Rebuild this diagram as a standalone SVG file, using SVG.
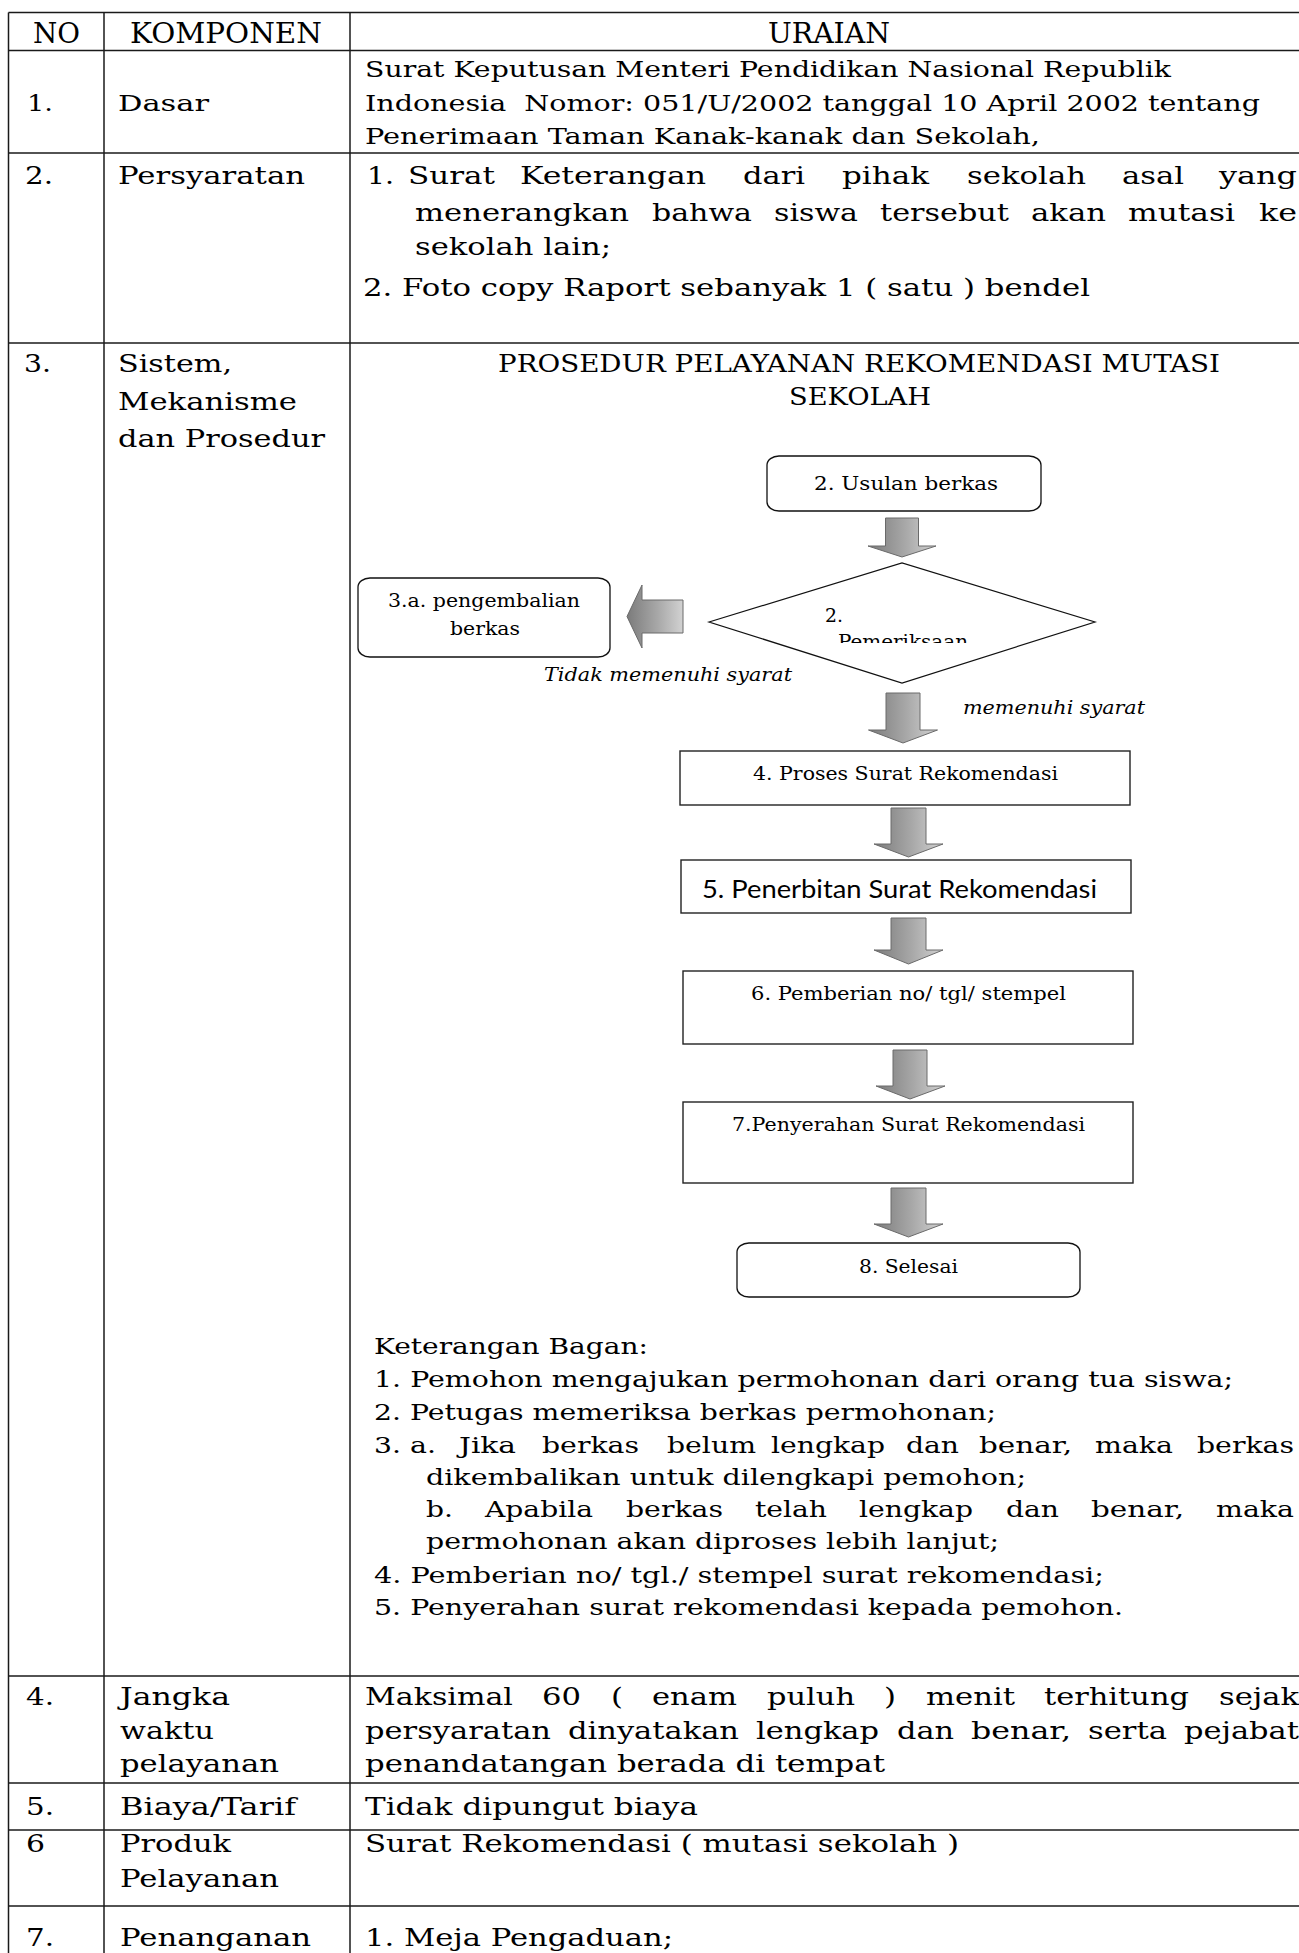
<svg xmlns="http://www.w3.org/2000/svg" width="1299" height="1953" viewBox="0 0 1299 1953">
<defs>
  <style>
    text { font-family: 'DejaVu Serif', 'Liberation Serif', serif; fill: #000; }
    .h { font-size: 27px; }
    .s23 { font-size: 23px; }
    .s24 { font-size: 24px; }
    .s25 { font-size: 25px; }
    .ttl { font-size: 25px; }
    .fl { font-size: 18px; }
    .it { font-size: 19px; font-style: italic; }
    .sans { font-family: Lato, 'Open Sans', 'Liberation Sans', sans-serif; font-size: 25px; }
    .grid line { stroke: #1a1a1a; stroke-width: 1.5; }
    .rbox { fill: #fff; stroke: #111; stroke-width: 1.3; }
    .box { fill: #fff; stroke: #222; stroke-width: 1.4; }
    .arrow { fill: url(#gArrow); stroke: #6a6a6a; stroke-width: 1; }
    .dia { fill: #fff; stroke: #111; stroke-width: 1.2; }
  </style>
  <linearGradient id="gArrow" x1="0" y1="0" x2="1" y2="0">
    <stop offset="0" stop-color="#7b7b7b"/>
    <stop offset="0.55" stop-color="#a8a8a8"/>
    <stop offset="1" stop-color="#d2d2d2"/>
  </linearGradient>
  <clipPath id="clipDiamondText"><rect x="700" y="590" width="400" height="53"/></clipPath>
</defs>

<rect x="0" y="0" width="1299" height="1953" fill="#fff"/>

<!-- table rules -->
<g id="table-grid" class="grid">
  <line x1="8.5" y1="12.5" x2="1299" y2="12.5"/>
  <line x1="8.5" y1="50.5" x2="1299" y2="50.5"/>
  <line x1="8.5" y1="153" x2="1299" y2="153"/>
  <line x1="8.5" y1="343" x2="1299" y2="343"/>
  <line x1="8.5" y1="1676" x2="1299" y2="1676"/>
  <line x1="8.5" y1="1783" x2="1299" y2="1783"/>
  <line x1="8.5" y1="1830" x2="1299" y2="1830"/>
  <line x1="8.5" y1="1906" x2="1299" y2="1906"/>
  <line x1="8.5" y1="12.5" x2="8.5" y2="1953"/>
  <line x1="104" y1="12.5" x2="104" y2="1953"/>
  <line x1="350" y1="12.5" x2="350" y2="1953"/>
</g>

<!-- header row -->
<g id="row-header">
  <text class="h" x="33" y="43" textLength="47" lengthAdjust="spacingAndGlyphs">NO</text>
  <text class="h" x="130" y="43" textLength="192" lengthAdjust="spacingAndGlyphs">KOMPONEN</text>
  <text class="h" x="768" y="43" textLength="122" lengthAdjust="spacingAndGlyphs">URAIAN</text>
</g>

<!-- 1. Dasar -->
<g id="row-1">
  <text class="s23" x="27" y="111" textLength="26" lengthAdjust="spacingAndGlyphs">1.</text>
  <text class="s23" x="118" y="111" textLength="91" lengthAdjust="spacingAndGlyphs">Dasar</text>
  <text class="s23" x="365" y="77" textLength="806" lengthAdjust="spacingAndGlyphs">Surat Keputusan Menteri Pendidikan Nasional Republik</text>
  <text class="s23" x="365" y="111" textLength="895" lengthAdjust="spacingAndGlyphs" xml:space="preserve">Indonesia  Nomor: 051/U/2002 tanggal 10 April 2002 tentang</text>
  <text class="s23" x="365" y="144" textLength="675" lengthAdjust="spacingAndGlyphs">Penerimaan Taman Kanak-kanak dan Sekolah,</text>
</g>

<!-- 2. Persyaratan -->
<g id="row-2">
  <text class="s25" x="25" y="184" textLength="28" lengthAdjust="spacingAndGlyphs">2.</text>
  <text class="s25" x="118" y="184" textLength="187" lengthAdjust="spacingAndGlyphs">Persyaratan</text>
  <g id="row-2-line-1">
    <text class="s25" x="367" y="184" textLength="27" lengthAdjust="spacingAndGlyphs">1.</text>
    <text class="s25" x="408" y="184" textLength="87" lengthAdjust="spacingAndGlyphs">Surat</text>
    <text class="s25" x="520" y="184" textLength="186" lengthAdjust="spacingAndGlyphs">Keterangan</text>
    <text class="s25" x="743" y="184" textLength="62" lengthAdjust="spacingAndGlyphs">dari</text>
    <text class="s25" x="842" y="184" textLength="87" lengthAdjust="spacingAndGlyphs">pihak</text>
    <text class="s25" x="967" y="184" textLength="119" lengthAdjust="spacingAndGlyphs">sekolah</text>
    <text class="s25" x="1122" y="184" textLength="62" lengthAdjust="spacingAndGlyphs">asal</text>
    <text class="s25" x="1219" y="184" textLength="78" lengthAdjust="spacingAndGlyphs">yang</text>
  </g>
  <g id="row-2-line-2">
    <text class="s25" x="415" y="221" textLength="214" lengthAdjust="spacingAndGlyphs">menerangkan</text>
    <text class="s25" x="652" y="221" textLength="100" lengthAdjust="spacingAndGlyphs">bahwa</text>
    <text class="s25" x="774" y="221" textLength="84" lengthAdjust="spacingAndGlyphs">siswa</text>
    <text class="s25" x="880" y="221" textLength="129" lengthAdjust="spacingAndGlyphs">tersebut</text>
    <text class="s25" x="1031" y="221" textLength="75" lengthAdjust="spacingAndGlyphs">akan</text>
    <text class="s25" x="1128" y="221" textLength="107" lengthAdjust="spacingAndGlyphs">mutasi</text>
    <text class="s25" x="1259" y="221" textLength="38" lengthAdjust="spacingAndGlyphs">ke</text>
  </g>
  <text class="s25" x="415" y="255" textLength="196" lengthAdjust="spacingAndGlyphs">sekolah lain;</text>
  <text class="s25" x="363" y="296" textLength="727" lengthAdjust="spacingAndGlyphs">2. Foto copy Raport sebanyak 1 ( satu ) bendel</text>
</g>

<!-- 3. Sistem, Mekanisme dan Prosedur -->
<g id="row-3">
  <text class="s25" x="24" y="372" textLength="27" lengthAdjust="spacingAndGlyphs">3.</text>
  <text class="s25" x="118" y="372" textLength="114" lengthAdjust="spacingAndGlyphs">Sistem,</text>
  <text class="s25" x="118" y="410" textLength="179" lengthAdjust="spacingAndGlyphs">Mekanisme</text>
  <text class="s25" x="118" y="447" textLength="207" lengthAdjust="spacingAndGlyphs">dan Prosedur</text>
  <text class="ttl" x="498" y="372" textLength="722" lengthAdjust="spacingAndGlyphs">PROSEDUR PELAYANAN REKOMENDASI MUTASI</text>
  <text class="ttl" x="789" y="405" textLength="142" lengthAdjust="spacingAndGlyphs">SEKOLAH</text>
</g>

<!-- flowchart connectors -->
<g id="connectors">
  <path id="arrow-usulan-periksa" class="arrow" d="M885.5,518 H918.5 V546 H936 L902,557 L868,546 H885.5 Z"/>
  <path id="arrow-periksa-kembali" class="arrow" d="M683,600 H642 V585 L627,616.5 L642,648 V633 H683 Z"/>
  <path id="arrow-periksa-proses" class="arrow" d="M886,693 H920 V730 H937.5 L903,743 L868.5,730 H886 Z"/>
  <path id="arrow-proses-terbit" class="arrow" d="M891,808 H926 V844 H943 L908.5,857 L874,844 H891 Z"/>
  <path id="arrow-terbit-nomor" class="arrow" d="M891,918 H926 V950 H943 L908.5,964 L874,950 H891 Z"/>
  <path id="arrow-nomor-serah" class="arrow" d="M893,1050 H927 V1086 H945 L910,1099 L876,1086 H893 Z"/>
  <path id="arrow-serah-selesai" class="arrow" d="M891,1188 H926 V1224 H943 L908.5,1237 L874,1224 H891 Z"/>
  <text class="it" x="544" y="681" textLength="248" lengthAdjust="spacingAndGlyphs">Tidak memenuhi syarat</text>
  <text class="it" x="963" y="714" textLength="182" lengthAdjust="spacingAndGlyphs">memenuhi syarat</text>
</g>

<!-- flowchart nodes -->
<g id="node-usulan">
  <rect class="rbox" x="767" y="456" width="274" height="55" rx="12" ry="9"/>
  <text class="fl" x="814" y="490" textLength="184" lengthAdjust="spacingAndGlyphs">2. Usulan berkas</text>
</g>
<g id="node-pemeriksaan">
  <polygon class="dia" points="709,622 902,563 1095,622 902,683"/>
  <text class="fl" x="825" y="622" textLength="18" lengthAdjust="spacingAndGlyphs">2.</text>
  <g clip-path="url(#clipDiamondText)">
    <text class="fl" x="838" y="648" textLength="130" lengthAdjust="spacingAndGlyphs">Pemeriksaan</text>
  </g>
</g>
<g id="node-pengembalian">
  <rect class="rbox" x="358" y="578" width="252" height="79" rx="12" ry="9"/>
  <text class="fl" x="388" y="607" textLength="192" lengthAdjust="spacingAndGlyphs">3.a. pengembalian</text>
  <text class="fl" x="450" y="635" textLength="70" lengthAdjust="spacingAndGlyphs">berkas</text>
</g>
<g id="node-proses">
  <rect class="box" x="680" y="751" width="450" height="54"/>
  <text class="fl" x="753" y="780" textLength="305" lengthAdjust="spacingAndGlyphs">4. Proses Surat Rekomendasi</text>
</g>
<g id="node-penerbitan">
  <rect class="box" x="681" y="860" width="450" height="53"/>
  <text class="sans" x="702" y="898" textLength="395" lengthAdjust="spacingAndGlyphs">5. Penerbitan Surat Rekomendasi</text>
</g>
<g id="node-pemberian">
  <rect class="box" x="683" y="971" width="450" height="73"/>
  <text class="fl" x="751" y="1000" textLength="315" lengthAdjust="spacingAndGlyphs">6. Pemberian no/ tgl/ stempel</text>
</g>
<g id="node-penyerahan">
  <rect class="box" x="683" y="1102" width="450" height="81"/>
  <text class="fl" x="732" y="1131" textLength="353" lengthAdjust="spacingAndGlyphs">7.Penyerahan Surat Rekomendasi</text>
</g>
<g id="node-selesai">
  <rect class="rbox" x="737" y="1243" width="343" height="54" rx="12" ry="9"/>
  <text class="fl" x="859" y="1273" textLength="99" lengthAdjust="spacingAndGlyphs">8. Selesai</text>
</g>

<!-- chart legend -->
<g id="keterangan">
  <text class="s23" x="374" y="1354" textLength="274" lengthAdjust="spacingAndGlyphs">Keterangan Bagan:</text>
  <text class="s23" x="374" y="1387" textLength="859" lengthAdjust="spacingAndGlyphs">1. Pemohon mengajukan permohonan dari orang tua siswa;</text>
  <text class="s23" x="374" y="1420" textLength="622" lengthAdjust="spacingAndGlyphs">2. Petugas memeriksa berkas permohonan;</text>
  <g id="keterangan-3a">
    <text class="s23" x="374" y="1453" textLength="27" lengthAdjust="spacingAndGlyphs">3.</text>
    <text class="s23" x="410" y="1453" textLength="26" lengthAdjust="spacingAndGlyphs">a.</text>
    <text class="s23" x="459" y="1453" textLength="57" lengthAdjust="spacingAndGlyphs">Jika</text>
    <text class="s23" x="542" y="1453" textLength="97" lengthAdjust="spacingAndGlyphs">berkas</text>
    <text class="s23" x="667" y="1453" textLength="89" lengthAdjust="spacingAndGlyphs">belum</text>
    <text class="s23" x="771" y="1453" textLength="114" lengthAdjust="spacingAndGlyphs">lengkap</text>
    <text class="s23" x="906" y="1453" textLength="53" lengthAdjust="spacingAndGlyphs">dan</text>
    <text class="s23" x="979" y="1453" textLength="93" lengthAdjust="spacingAndGlyphs">benar,</text>
    <text class="s23" x="1095" y="1453" textLength="78" lengthAdjust="spacingAndGlyphs">maka</text>
    <text class="s23" x="1197" y="1453" textLength="97" lengthAdjust="spacingAndGlyphs">berkas</text>
  </g>
  <text class="s23" x="426" y="1485" textLength="600" lengthAdjust="spacingAndGlyphs">dikembalikan untuk dilengkapi pemohon;</text>
  <g id="keterangan-3b">
    <text class="s23" x="426" y="1517" textLength="27" lengthAdjust="spacingAndGlyphs">b.</text>
    <text class="s23" x="485" y="1517" textLength="108" lengthAdjust="spacingAndGlyphs">Apabila</text>
    <text class="s23" x="626" y="1517" textLength="97" lengthAdjust="spacingAndGlyphs">berkas</text>
    <text class="s23" x="755" y="1517" textLength="72" lengthAdjust="spacingAndGlyphs">telah</text>
    <text class="s23" x="859" y="1517" textLength="114" lengthAdjust="spacingAndGlyphs">lengkap</text>
    <text class="s23" x="1006" y="1517" textLength="53" lengthAdjust="spacingAndGlyphs">dan</text>
    <text class="s23" x="1091" y="1517" textLength="93" lengthAdjust="spacingAndGlyphs">benar,</text>
    <text class="s23" x="1216" y="1517" textLength="78" lengthAdjust="spacingAndGlyphs">maka</text>
  </g>
  <text class="s23" x="426" y="1549" textLength="573" lengthAdjust="spacingAndGlyphs">permohonan akan diproses lebih lanjut;</text>
  <text class="s23" x="374" y="1583" textLength="730" lengthAdjust="spacingAndGlyphs">4. Pemberian no/ tgl./ stempel surat rekomendasi;</text>
  <text class="s23" x="374" y="1615" textLength="749" lengthAdjust="spacingAndGlyphs">5. Penyerahan surat rekomendasi kepada pemohon.</text>
</g>

<!-- 4. Jangka waktu pelayanan -->
<g id="row-4">
  <text class="s25" x="26" y="1705" textLength="28" lengthAdjust="spacingAndGlyphs">4.</text>
  <text class="s25" x="120" y="1705" textLength="110" lengthAdjust="spacingAndGlyphs">Jangka</text>
  <text class="s25" x="120" y="1739" textLength="94" lengthAdjust="spacingAndGlyphs">waktu</text>
  <text class="s25" x="120" y="1772" textLength="159" lengthAdjust="spacingAndGlyphs">pelayanan</text>
  <g id="row-4-line-1">
    <text class="s25" x="365" y="1705" textLength="148" lengthAdjust="spacingAndGlyphs">Maksimal</text>
    <text class="s25" x="542" y="1705" textLength="39" lengthAdjust="spacingAndGlyphs">60</text>
    <text class="s25" x="611" y="1705" textLength="12" lengthAdjust="spacingAndGlyphs">(</text>
    <text class="s25" x="652" y="1705" textLength="85" lengthAdjust="spacingAndGlyphs">enam</text>
    <text class="s25" x="767" y="1705" textLength="88" lengthAdjust="spacingAndGlyphs">puluh</text>
    <text class="s25" x="884" y="1705" textLength="12" lengthAdjust="spacingAndGlyphs">)</text>
    <text class="s25" x="926" y="1705" textLength="89" lengthAdjust="spacingAndGlyphs">menit</text>
    <text class="s25" x="1044" y="1705" textLength="145" lengthAdjust="spacingAndGlyphs">terhitung</text>
    <text class="s25" x="1219" y="1705" textLength="80" lengthAdjust="spacingAndGlyphs">sejak</text>
  </g>
  <g id="row-4-line-2">
    <text class="s25" x="365" y="1739" textLength="186" lengthAdjust="spacingAndGlyphs">persyaratan</text>
    <text class="s25" x="568" y="1739" textLength="171" lengthAdjust="spacingAndGlyphs">dinyatakan</text>
    <text class="s25" x="756" y="1739" textLength="123" lengthAdjust="spacingAndGlyphs">lengkap</text>
    <text class="s25" x="897" y="1739" textLength="57" lengthAdjust="spacingAndGlyphs">dan</text>
    <text class="s25" x="971" y="1739" textLength="100" lengthAdjust="spacingAndGlyphs">benar,</text>
    <text class="s25" x="1088" y="1739" textLength="79" lengthAdjust="spacingAndGlyphs">serta</text>
    <text class="s25" x="1184" y="1739" textLength="115" lengthAdjust="spacingAndGlyphs">pejabat</text>
  </g>
  <text class="s25" x="365" y="1772" textLength="520" lengthAdjust="spacingAndGlyphs">penandatangan berada di tempat</text>
</g>

<!-- 5. Biaya/Tarif -->
<g id="row-5">
  <text class="s25" x="26" y="1815" textLength="28" lengthAdjust="spacingAndGlyphs">5.</text>
  <text class="s25" x="120" y="1815" textLength="176" lengthAdjust="spacingAndGlyphs">Biaya/Tarif</text>
  <text class="s25" x="365" y="1815" textLength="333" lengthAdjust="spacingAndGlyphs">Tidak dipungut biaya</text>
</g>

<!-- 6 Produk Pelayanan -->
<g id="row-6">
  <text class="s25" x="26" y="1852" textLength="19" lengthAdjust="spacingAndGlyphs">6</text>
  <text class="s25" x="120" y="1852" textLength="111" lengthAdjust="spacingAndGlyphs">Produk</text>
  <text class="s25" x="120" y="1887" textLength="159" lengthAdjust="spacingAndGlyphs">Pelayanan</text>
  <text class="s25" x="365" y="1852" textLength="594" lengthAdjust="spacingAndGlyphs">Surat Rekomendasi ( mutasi sekolah )</text>
</g>

<!-- 7. Penanganan -->
<g id="row-7">
  <text class="s25" x="26" y="1946" textLength="28" lengthAdjust="spacingAndGlyphs">7.</text>
  <text class="s25" x="120" y="1946" textLength="191" lengthAdjust="spacingAndGlyphs">Penanganan</text>
  <text class="s25" x="365" y="1946" textLength="308" lengthAdjust="spacingAndGlyphs">1. Meja Pengaduan;</text>
</g>
</svg>
